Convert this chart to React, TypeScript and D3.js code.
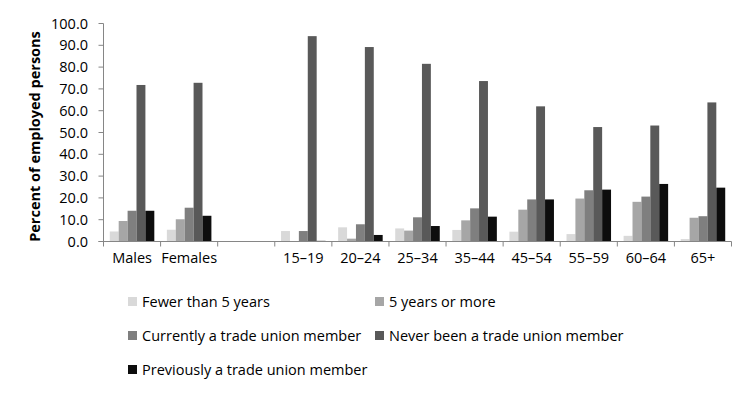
import React from "react";
import * as d3 from "d3";

const categories = ["Males", "Females", "", "15–19", "20–24", "25–34", "35–44", "45–54", "55–59", "60–64", "65+"];
const seriesNames = [
  "Fewer than 5 years",
  "5 years or more",
  "Currently a trade union member",
  "Never been a trade union member",
  "Previously a trade union member",
];
const fewerThan5 = [4.6, 5.4, null, 4.8, 6.5, 6.0, 5.3, 4.5, 3.4, 2.6, 1.1];
const fiveOrMore = [9.4, 10.2, null, 0, 1.3, 5.0, 9.7, 14.6, 19.7, 18.2, 10.9];
const currentMember = [14.1, 15.5, null, 4.8, 7.9, 11.1, 15.2, 19.3, 23.5, 20.6, 11.6];
const neverMember = [71.8, 72.8, null, 94.2, 89.2, 81.5, 73.6, 62.0, 52.5, 53.2, 63.8];
const previousMember = [14.1, 11.8, null, 0.3, 3.0, 7.1, 11.4, 19.3, 23.8, 26.4, 24.7];
const yTicks = [0, 10, 20, 30, 40, 50, 60, 70, 80, 90, 100];
const seriesValues = [fewerThan5, fiveOrMore, currentMember, neverMember, previousMember];
const colors = ["#d9d9d9", "#a6a6a6", "#7f7f7f", "#595959", "#0d0d0d"];

const W = 754;
const H = 395;
const left = 103.5;
const right = 731.5;
const top = 23.5;
const bottom = 241.5;
const font = "'Open Sans', sans-serif";
const axisColor = "#868686";
const fs = 14.5;

export default function App() {
  const x = d3.scaleBand<string>().domain(categories.map((c, i) => String(i))).range([left, right]).paddingInner(0).paddingOuter(0);
  const bw = x.bandwidth();
  const groupW = bw * 0.78;
  const xs = d3.scaleBand<number>().domain(d3.range(seriesNames.length)).range([0, groupW]);
  const y = d3.scaleLinear().domain([0, 100]).range([bottom, top]);

  const legendPos = [
    { x: 128, y: 302 },
    { x: 375, y: 302 },
    { x: 128, y: 336 },
    { x: 375, y: 336 },
    { x: 128, y: 370 },
  ];

  return (
    <svg width={W} height={H} style={{ position: "absolute", left: 0, top: 0, background: "#fff" }}>
      {categories.map((c, ci) =>
        seriesValues.map((vals, si) => {
          const v = vals[ci];
          if (v === null || v === undefined) return null;
          const x0 = (x(String(ci)) as number) + (bw - groupW) / 2 + (xs(si) as number);
          return (
            <rect
              key={`${ci}-${si}`}
              x={x0}
              y={y(v)}
              width={xs.bandwidth()}
              height={bottom - y(v)}
              fill={colors[si]}
            />
          );
        })
      )}
      <line x1={left} x2={left} y1={top} y2={bottom + 5} stroke={axisColor} strokeWidth={1} />
      {yTicks.map((t) => (
        <g key={t}>
          <line x1={left - 5} x2={left} y1={y(t)} y2={y(t)} stroke={axisColor} strokeWidth={1} />
          <text x={88} y={y(t)} dy="0.35em" textAnchor="end" fontFamily={font} fontSize={fs} fill="#000">
            {t.toFixed(1)}
          </text>
        </g>
      ))}
      <line x1={left - 5} x2={right} y1={bottom} y2={bottom} stroke={axisColor} strokeWidth={1} />
      {categories.map((c, ci) => (
        <line
          key={`t${ci}`}
          x1={(x(String(ci)) as number) + bw}
          x2={(x(String(ci)) as number) + bw}
          y1={bottom}
          y2={bottom + 5}
          stroke={axisColor}
          strokeWidth={1}
        />
      ))}
      {categories.map((c, ci) => (
        <text
          key={`l${ci}`}
          x={(x(String(ci)) as number) + bw / 2}
          y={263}
          textAnchor="middle"
          fontFamily={font}
          fontSize={fs}
          fill="#000"
        >
          {c}
        </text>
      ))}
      <text
        transform={`translate(40, ${(top + bottom) / 2 + 4}) rotate(-90)`}
        textAnchor="middle"
        fontFamily={font}
        fontSize={14.5}
        fontWeight="bold"
        fill="#000"
      >
        Percent of employed persons
      </text>
      {seriesNames.map((s, i) => (
        <g key={s}>
          <rect x={legendPos[i].x} y={legendPos[i].y - 5} width={9} height={9} fill={colors[i]} />
          <text x={legendPos[i].x + 14} y={legendPos[i].y} dy="0.35em" fontFamily={font} fontSize={fs} fill="#000">
            {s}
          </text>
        </g>
      ))}
    </svg>
  );
}
